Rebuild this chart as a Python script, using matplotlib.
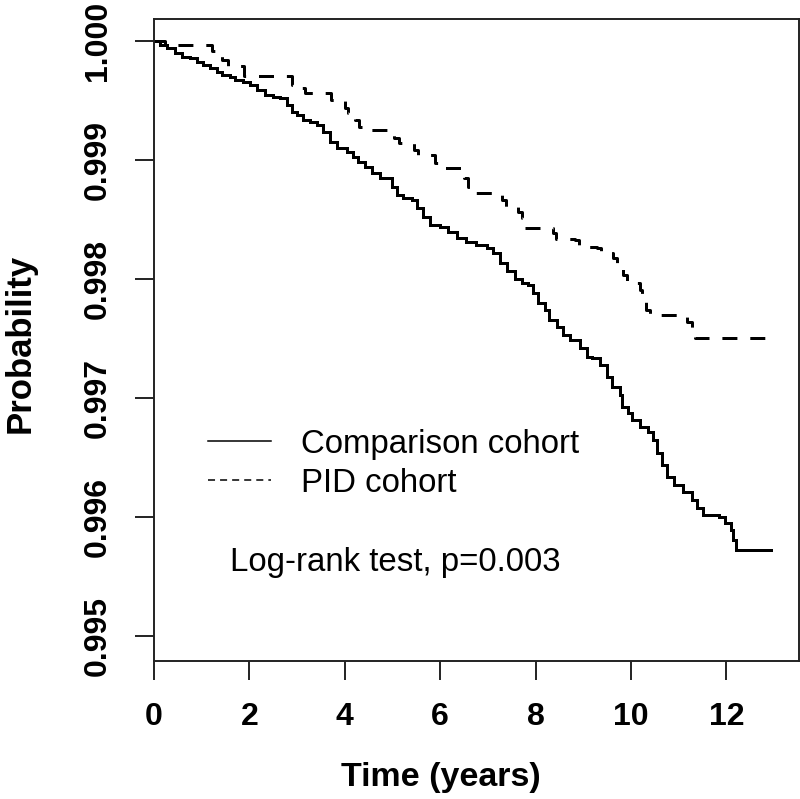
import matplotlib
matplotlib.use("Agg")
import matplotlib.pyplot as plt
from matplotlib.lines import Line2D

# Kaplan-Meier curves (time in years, survival probability)
comp_time = [0.00, 0.13, 0.27, 0.44, 0.59, 0.75, 0.90, 1.03, 1.17, 1.32, 1.42, 1.59,
             1.70, 1.86, 2.01, 2.16, 2.32, 2.49, 2.64, 2.79, 2.89, 2.99, 3.12, 3.27,
             3.41, 3.54, 3.69, 3.83, 4.04, 4.17, 4.27, 4.42, 4.57, 4.73, 4.98, 5.09,
             5.21, 5.40, 5.51, 5.63, 5.78, 5.99, 6.16, 6.35, 6.55, 6.76, 6.97, 7.10,
             7.25, 7.39, 7.56, 7.71, 7.83, 7.94, 8.04, 8.19, 8.29, 8.44, 8.57, 8.71,
             8.92, 9.07, 9.19, 9.34, 9.49, 9.61, 9.76, 9.82, 9.93, 10.03, 10.18, 10.35,
             10.45, 10.55, 10.64, 10.76, 10.91, 11.08, 11.27, 11.39, 11.50, 11.85, 11.96,
             12.10, 12.13, 12.21, 12.94]
comp_surv = [1.000000, 0.999966, 0.999941, 0.999899, 0.999866, 0.999857, 0.999824,
             0.999798, 0.999773, 0.999739, 0.999714, 0.999697, 0.999672, 0.999655,
             0.999630, 0.999588, 0.999546, 0.999529, 0.999521, 0.999462, 0.999403,
             0.999378, 0.999336, 0.999319, 0.999294, 0.999235, 0.999151, 0.999101,
             0.999067, 0.999025, 0.998983, 0.998941, 0.998891, 0.998849, 0.998773,
             0.998706, 0.998681, 0.998664, 0.998597, 0.998521, 0.998454, 0.998437,
             0.998395, 0.998345, 0.998311, 0.998286, 0.998261, 0.998218, 0.998134,
             0.998067, 0.998000, 0.997966, 0.997950, 0.997882, 0.997798, 0.997739,
             0.997655, 0.997597, 0.997529, 0.997487, 0.997420, 0.997345, 0.997336,
             0.997277, 0.997176, 0.997092, 0.997025, 0.996924, 0.996874, 0.996815,
             0.996756, 0.996714, 0.996647, 0.996538, 0.996437, 0.996336, 0.996269,
             0.996210, 0.996143, 0.996076, 0.996017, 0.996000, 0.995950, 0.995891,
             0.995807, 0.995723, 0.995723]

pid_time = [0.00, 0.23, 1.21, 1.42, 1.55, 1.88, 2.89, 3.06, 3.16, 3.71, 4.00, 4.06,
            4.21, 4.29, 4.42, 5.03, 5.13, 5.45, 5.53, 5.88, 5.99, 6.49, 6.58, 6.70,
            7.29, 7.37, 7.62, 7.71, 7.77, 8.36, 8.42, 8.82, 8.90, 9.28, 9.36, 9.63,
            9.70, 9.84, 9.91, 10.18, 10.22, 10.32, 10.39, 11.18, 11.27, 11.33, 12.90]
pid_surv = [1.000000, 0.999966, 0.999916, 0.999840, 0.999790, 0.999706, 0.999630,
            0.999605, 0.999563, 0.999504, 0.999437, 0.999395, 0.999336, 0.999277,
            0.999252, 0.999185, 0.999143, 0.999084, 0.999042, 0.998975, 0.998933,
            0.998849, 0.998773, 0.998723, 0.998664, 0.998605, 0.998563, 0.998513,
            0.998429, 0.998387, 0.998336, 0.998328, 0.998269, 0.998261, 0.998218,
            0.998176, 0.998101, 0.998034, 0.997966, 0.997908, 0.997849, 0.997739,
            0.997697, 0.997639, 0.997571, 0.997504, 0.997504]

x_ticks = [0, 2, 4, 6, 8, 10, 12]
y_ticks = [0.995, 0.996, 0.997, 0.998, 0.999, 1.000]
y_tick_labels = ["0.995", "0.996", "0.997", "0.998", "0.999", "1.000"]

plt.rcParams['font.family'] = ['Liberation Sans', 'DejaVu Sans']

fig = plt.figure(figsize=(8, 7.99), dpi=100)
ax = fig.add_axes([154 / 800, 138 / 799, 644.5 / 800, 642 / 799])

lw = 2.16
ax.step(comp_time, comp_surv, where='post', color='black', lw=lw,
        solid_joinstyle='miter')
ax.step(pid_time, pid_surv, where='post', color='black', lw=lw,
        dashes=(5, 4.3), dash_capstyle='butt')

ax.set_xlim(0, 13.51)
ax.set_ylim(0.994790, 1.000185)

ax.set_xticks(x_ticks)
ax.set_xticklabels([str(t) for t in x_ticks])
ax.set_yticks(y_ticks)
ax.set_yticklabels(y_tick_labels, rotation=90, va='center')

for lab in ax.get_xticklabels() + ax.get_yticklabels():
    lab.set_fontweight('bold')
ax.tick_params(axis='both', direction='out', length=13.5, width=1.4,
               labelsize=23, pad=16, color='#222222')

for s in ax.spines.values():
    s.set_linewidth(1.4)
    s.set_color('#222222')

ax.set_xlabel("Time (years)", fontsize=24.5, fontweight='bold', va='center')
ax.xaxis.set_label_coords(0.445, -0.181)
ax.set_ylabel("Probability", fontsize=25, fontweight='bold', va='center')
ax.yaxis.set_label_coords(-0.208, 0.495)

# legend with thinner lines, like the original R output
handles = [Line2D([], [], color='black', lw=1.1),
           Line2D([], [], color='black', lw=1.1, dashes=(4.6, 3.3))]
ax.legend(handles, ["Comparison cohort", "PID cohort"], loc='center left',
          bbox_to_anchor=(0.0837, 0.307), frameon=False, fontsize=23.8,
          handlelength=1.9, handletextpad=0.92, labelspacing=0.25,
          borderpad=0, borderaxespad=0)

ax.text(0.118, 0.154, "Log-rank test, p=0.003", transform=ax.transAxes,
        fontsize=23.8, ha='left', va='center')

fig.savefig("out.png", dpi=100)
